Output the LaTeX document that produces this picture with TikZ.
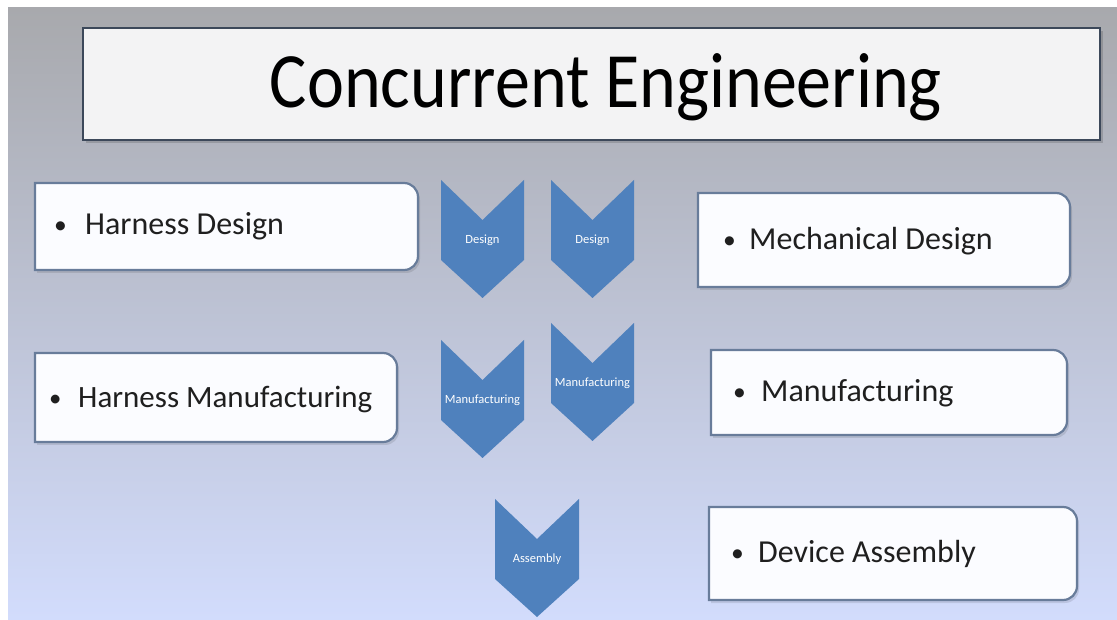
\documentclass[tikz,border=0pt]{standalone}
\usepackage{fontspec}
\setmainfont{Carlito}
\definecolor{bgtop}{RGB}{168,169,173}
\definecolor{bgmid}{RGB}{192,198,220}
\definecolor{bgbot}{RGB}{210,220,252}
\definecolor{chev}{RGB}{79,129,189}
\definecolor{boxline}{RGB}{104,124,154}
\definecolor{titleline}{RGB}{60,72,90}
\definecolor{titlefill}{RGB}{243,243,244}
\definecolor{boxfill}{RGB}{251,252,255}
\tikzset{
  frame/.style={inner sep=0pt, outer sep=0pt},
  itemtext/.style={anchor=base west, inner sep=0pt, font=\fontsize{32}{36}\selectfont, text=black!88},
  chevtext/.style={inner sep=0pt, text=white, font=\fontsize{12.5}{14}\selectfont},
  roundbox/.style={fill=boxfill, draw=boxline, line width=2.2pt},
  chevshape/.style={fill=chev},
}
\newcommand{\dotmark}{\raisebox{1pt}{\scalebox{0.8}{•}}}
% outline with rounded corners on the right side only
\newcommand{\rightround}[1]{%
  \fill[black, opacity=0.10] ([shift={(2,-3)}]#1.south west) -- ([shift={(2,-3)}]#1.north west)
    -- ([shift={(-12,-3)}]#1.north east) arc[start angle=90,end angle=0,radius=14pt]
    -- ([shift={(2,11)}]#1.south east) arc[start angle=0,end angle=-90,radius=14pt] -- cycle;
  \path[roundbox] (#1.south west) -- (#1.north west)
    -- ([xshift=-14pt]#1.north east) arc[start angle=90,end angle=0,radius=14pt]
    -- ([yshift=14pt]#1.south east) arc[start angle=0,end angle=-90,radius=14pt] -- cycle;}
% downward chevron around a centre coordinate
\newcommand{\chevron}[2]{%
  \fill[chevshape] ([shift={(-#2,60)}]#1) -- ([shift={(0,20)}]#1) -- ([shift={(#2,60)}]#1)
    -- ([shift={(#2,-20)}]#1) -- ([shift={(0,-58)}]#1) -- ([shift={(-#2,-20)}]#1) -- cycle;}
\begin{document}
\begin{tikzpicture}[x=1pt,y=1pt]
\useasboundingbox (0,0) rectangle (1117,619);
\fill[white] (0,0) rectangle (1117,619);
\shade[top color=bgtop, middle color=bgmid, bottom color=bgbot] (8,0) rectangle (1117,611);

% title banner
\node[frame, minimum width=1017pt, minimum height=112pt] (title) at (591.5,535) {};
\fill[black, opacity=0.15] ([shift={(3,-3)}]title.south west) rectangle ([shift={(3,-3)}]title.north east);
\path[fill=titlefill, draw=titleline, line width=2.8pt] (title.south west) rectangle (title.north east);
\node[inner sep=0pt, anchor=base, font=\fontsize{70}{78}\selectfont] (titletext) at (606,511)
  {\scalebox{1}[1.12]{Concurrent Engineering}};

% left column
\node[frame, minimum width=383pt, minimum height=87pt, anchor=north west] (hd) at (35,436) {};
\rightround{hd}
\node[itemtext] (hdt) at (54,384) {\makebox[31pt][l]{\dotmark}Harness Design};

\node[frame, minimum width=362pt, minimum height=89pt, anchor=north west] (hm) at (35,266) {};
\rightround{hm}
\node[itemtext, font=\fontsize{31}{36}\selectfont] (hmt) at (49,211) {\makebox[29pt][l]{\dotmark}Harness Manufacturing};

% right column
\node[frame, minimum width=372pt, minimum height=94pt, anchor=north west] (md) at (698,426) {};
\rightround{md}
\node[itemtext] (mdt) at (723,369) {\makebox[26pt][l]{\dotmark}Mechanical Design};

\node[frame, minimum width=356pt, minimum height=85pt, anchor=north west] (mf) at (711,269) {};
\rightround{mf}
\node[itemtext] (mft) at (733,217) {\makebox[28pt][l]{\dotmark}Manufacturing};

\node[frame, minimum width=368pt, minimum height=93pt, anchor=north west] (da) at (709,112) {};
\rightround{da}
\node[itemtext] (dat) at (731,57) {\makebox[27pt][l]{\dotmark}Device Assembly};

% chevrons
\coordinate (c1) at (482.5,379);
\coordinate (c2) at (592.5,379);
\coordinate (c3) at (482.5,219);
\coordinate (c4) at (592.5,236);
\coordinate (c5) at (537,60);
\chevron{c1}{41.5}
\chevron{c2}{41.5}
\chevron{c3}{41.5}
\chevron{c4}{41.5}
\chevron{c5}{42}
\node[chevtext] (c1t) at (c1) {Design};
\node[chevtext] (c2t) at (c2) {Design};
\node[chevtext] (c3t) at (c3) {Manufacturing};
\node[chevtext] (c4t) at (c4) {Manufacturing};
\node[chevtext] (c5t) at (c5) {Assembly};
\end{tikzpicture}
\end{document}
